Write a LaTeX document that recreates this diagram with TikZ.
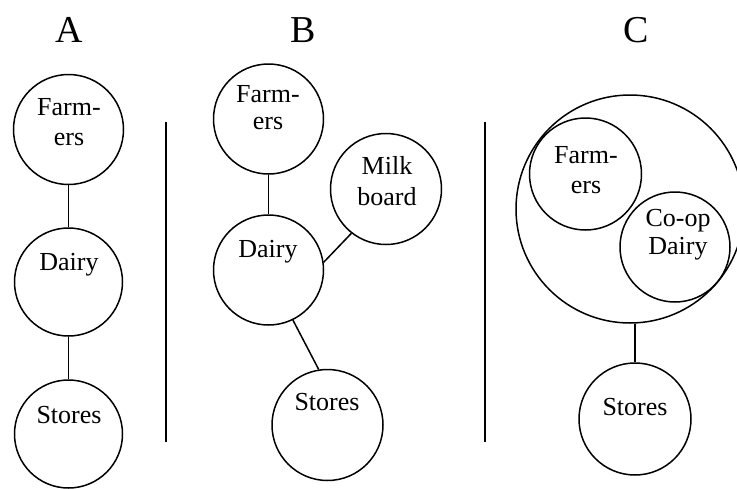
\documentclass[tikz,border=0pt]{standalone}
\usepackage{fontspec}
\setmainfont{Liberation Serif}
\begin{document}
\begin{tikzpicture}[x=1pt,y=-1pt,
  circ/.style={circle,draw,line width=1.5pt,inner sep=0pt,minimum size=#1},
  lbl/.style={anchor=base,inner sep=0pt,font=\fontsize{26}{30}\selectfont},
  ttl/.style={anchor=base,inner sep=0pt,font=\fontsize{38}{44}\selectfont},
  conn/.style={line width=1.5pt},
  sep/.style={line width=1.5pt}]
\useasboundingbox (0,0) rectangle (737,488);
\clip (0,0) rectangle (737,488);
% titles
\node[ttl] (tA) at (69,42) {A};
\node[ttl] (tB) at (303,42) {B};
\node[ttl] (tC) at (636,42) {C};
% separators
\coordinate (s1t) at (166,122); \coordinate (s1b) at (166,442);
\coordinate (s2t) at (485,122); \coordinate (s2b) at (485,442);
\draw[sep] (s1t) -- (s1b);
\draw[sep] (s2t) -- (s2b);
% panel A
\node[circ=110pt] (fa) at (68.5,129.5) {};
\node[circ=108pt] (da) at (68.5,282) {};
\node[circ=108pt] (sa) at (68.5,434) {};
\node[lbl] (fat1) at (69,115.5) {Farm-};
\node[lbl] (fat2) at (69,145.5) {ers};
\node[lbl] (dat) at (69,270) {Dairy};
\node[lbl] (sat) at (69,423) {Stores};
\draw[conn] (fa) -- (da);
\draw[conn] (da) -- (sa);
% panel B
\node[circ=110pt] (fb) at (268.5,119) {};
\node[circ=111pt] (mb) at (386,189) {};
\node[circ=110pt] (db) at (268.5,270) {};
\node[circ=111pt] (sb) at (327.5,425) {};
\node[lbl] (fbt1) at (268,102) {Farm-};
\node[lbl] (fbt2) at (268,129.5) {ers};
\node[lbl] (mbt1) at (387,174) {Milk};
\node[lbl] (mbt2) at (387,205) {board};
\node[lbl] (dbt) at (268,257) {Dairy};
\node[lbl] (sbt) at (327,410) {Stores};
\draw[conn] (fb) -- (db);
\draw[conn] (mb.232) -- (db.8);
\draw[conn] (db.296) -- (sb.99);
% panel C
\node[circ=228pt] (bc) at (630,209) {};
\node[circ=112pt] (fc) at (585.5,174) {};
\node[circ=110pt] (dc) at (675,247) {};
\node[circ=112pt] (sc) at (635,419) {};
\node[lbl] (fct1) at (586,163) {Farm-};
\node[lbl] (fct2) at (586,193) {ers};
\node[lbl] (dct1) at (678,226) {Co-op};
\node[lbl] (dct2) at (678,254) {Dairy};
\node[lbl] (sct) at (635,415) {Stores};
\draw[conn] (sc.north) -- (bc.south -| sc.north);
\end{tikzpicture}
\end{document}
